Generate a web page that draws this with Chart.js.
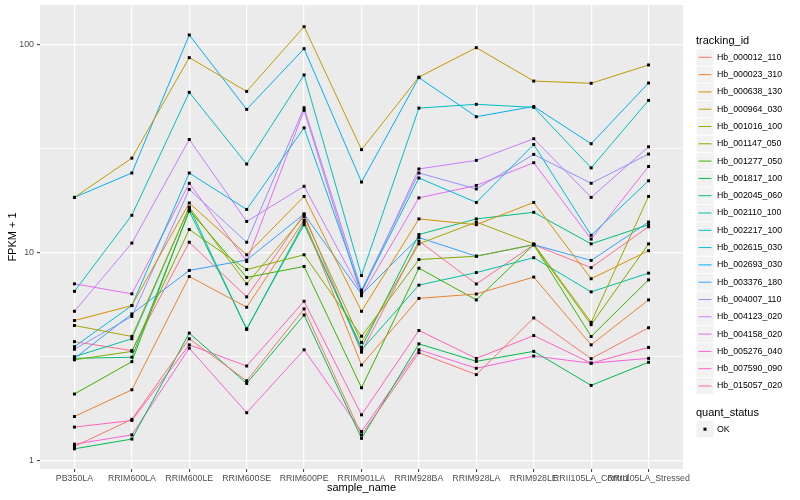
<!DOCTYPE html>
<html>
<head>
<meta charset="utf-8">
<script src="https://cdn.jsdelivr.net/npm/chart.js@4.4.0/dist/chart.umd.min.js"></script>
<style>
  html, body { margin: 0; padding: 0; background: #fff; }
  #box { width: 800px; height: 500px; position: relative; }
</style>
</head>
<body>
<div id="box"><canvas id="chart1"></canvas></div>
<script>
// categories on the x axis
const samples = ['PB350LA', 'RRIM600LA', 'RRIM600LE', 'RRIM600SE', 'RRIM600PE', 'RRIM901LA',
                 'RRIM928BA', 'RRIM928LA', 'RRIM928LE', 'RRII105LA_Control', 'RRII105LA_Stressed'];
const trackingIds = ['Hb_000012_110', 'Hb_000023_310', 'Hb_000638_130', 'Hb_000964_030', 'Hb_001016_100',
                     'Hb_001147_050', 'Hb_001277_050', 'Hb_001817_100', 'Hb_002045_060', 'Hb_002110_100',
                     'Hb_002217_100', 'Hb_002615_030', 'Hb_002693_030', 'Hb_003376_180', 'Hb_004007_110',
                     'Hb_004123_020', 'Hb_004158_020', 'Hb_005276_040', 'Hb_007590_090', 'Hb_015057_020'];
const yTicks = [1, 10, 100];
const yMinor = [3.162, 31.62];

// FPKM + 1, one value per sample
const hb_000012_110 = [1.17, 1.58, 3.85, 2.42, 5.36, 1.33, 3.30, 2.59, 4.85, 3.09, 4.35];
const hb_000023_310 = [1.63, 2.19, 7.67, 5.46, 14.3, 2.88, 6.02, 6.32, 7.62, 3.60, 5.92];
const hb_000638_130 = [4.71, 5.56, 17.3, 9.75, 18.6, 5.22, 14.5, 13.6, 17.4, 7.48, 10.2];
const hb_000964_030 = [18.4, 28.4, 86.3, 59.4, 121.6, 31.2, 69.6, 96.4, 66.6, 65.0, 79.6];
const hb_001016_100 = [4.46, 3.95, 16.5, 7.07, 14.9, 3.70, 11.0, 14.0, 11.0, 4.62, 18.6];
const hb_001147_050 = [3.05, 3.35, 12.9, 8.28, 9.75, 3.96, 9.25, 9.60, 10.9, 4.50, 11.0];
const hb_001277_050 = [2.09, 2.99, 16.0, 7.59, 8.57, 2.24, 8.41, 5.92, 10.9, 3.95, 7.39];
const hb_001817_100 = [1.14, 1.27, 4.10, 2.35, 5.01, 1.28, 3.64, 3.00, 3.35, 2.30, 2.97];
const hb_002045_060 = [3.10, 3.14, 15.8, 4.30, 13.6, 3.50, 12.2, 14.5, 15.6, 11.0, 13.6];
const hb_002110_100 = [3.16, 3.85, 16.5, 4.27, 14.0, 3.40, 6.97, 8.01, 9.44, 6.47, 7.96];
const hb_002217_100 = [6.51, 15.1, 58.8, 26.6, 71.3, 7.75, 49.4, 51.5, 49.8, 25.5, 53.8];
const hb_002615_030 = [3.53, 5.56, 24.1, 16.1, 39.7, 6.50, 22.8, 17.4, 33.0, 12.1, 22.1];
const hb_002693_030 = [18.4, 24.1, 110.9, 48.7, 95.3, 21.8, 69.2, 44.9, 50.3, 33.3, 65.2];
const hb_003376_180 = [3.10, 5.07, 8.20, 9.20, 15.3, 6.30, 11.8, 9.60, 10.9, 9.16, 14.0];
const hb_004007_110 = [3.43, 4.93, 20.1, 11.2, 49.6, 6.60, 24.1, 20.2, 29.6, 21.5, 29.7];
const hb_004123_020 = [5.22, 11.1, 34.9, 14.1, 20.8, 6.40, 25.2, 27.7, 35.2, 18.4, 32.2];
const hb_004158_020 = [7.07, 6.33, 21.5, 9.05, 48.2, 6.20, 18.3, 21.0, 27.0, 11.6, 25.9];
const hb_005276_040 = [1.20, 1.33, 3.47, 1.70, 3.41, 1.38, 3.41, 2.78, 3.18, 2.94, 3.10];
const hb_007590_090 = [1.45, 1.56, 3.60, 2.85, 5.83, 1.66, 4.22, 3.10, 3.99, 2.94, 3.50];
const hb_015057_020 = [3.73, 3.38, 11.2, 6.12, 15.3, 3.32, 11.35, 7.06, 10.9, 8.46, 13.3];

const fpkm = [hb_000012_110, hb_000023_310, hb_000638_130, hb_000964_030, hb_001016_100,
              hb_001147_050, hb_001277_050, hb_001817_100, hb_002045_060, hb_002110_100,
              hb_002217_100, hb_002615_030, hb_002693_030, hb_003376_180, hb_004007_110,
              hb_004123_020, hb_004158_020, hb_005276_040, hb_007590_090, hb_015057_020];

// ggplot hue palette, 20 levels
const hue = ['#F8766D', '#EA8331', '#D89000', '#C09B00', '#A3A500', '#7CAE00', '#39B600', '#00BB4E',
             '#00BF7D', '#00C1A3', '#00BFC4', '#00BAE0', '#00B0F6', '#35A2FF', '#9590FF', '#C77CFF',
             '#E76BF3', '#FA62DB', '#FF62BC', '#FF6C91'];

const FONT = '"Liberation Sans", Arial, sans-serif';

let datasets = fpkm.map((vals, k) => ({
    label: trackingIds[k],
    data: vals.map((v, i) => ({x: i, y: v})),
    borderColor: hue[k],
    borderWidth: 1,
    pointRadius: 0,
    fill: false,
    order: 1
}));

// quant_status = OK for every point, drawn on top
datasets.push({
    type: 'scatter',
    label: 'OK',
    data: fpkm.flatMap(vals => vals.map((v, i) => ({x: i, y: v}))),
    pointStyle: 'rect',
    pointRadius: 2.1,
    backgroundColor: '#000',
    borderWidth: 0,
    showLine: false,
    order: 0
});

const panelBg = {
    id: 'panelBg',
    beforeDraw: (chart) => {
        const {ctx, chartArea: a} = chart;
        ctx.save();
        ctx.fillStyle = '#fff';
        ctx.fillRect(0, 0, chart.width, chart.height);
        ctx.fillStyle = '#EBEBEB';
        ctx.fillRect(a.left, a.top, a.right - a.left, a.bottom - a.top);
        ctx.restore();
    }
};

const ggLegend = {
    id: 'ggLegend',
    afterDraw: (chart) => {
        const ctx = chart.ctx;
        ctx.save();
        ctx.textBaseline = 'middle';
        ctx.fillStyle = '#000';
        ctx.font = '11px ' + FONT;
        ctx.fillText('tracking_id', 696, 40.5);
        ctx.font = '8.8px ' + FONT;
        trackingIds.forEach((id, i) => {
            const y = 57.3 + i * 17.3;
            ctx.fillStyle = '#F2F2F2';
            ctx.fillRect(696.5, y - 8.2, 17, 16.4);
            ctx.strokeStyle = hue[i];
            ctx.lineWidth = 1;
            ctx.beginPath();
            ctx.moveTo(698.5, y);
            ctx.lineTo(711.5, y);
            ctx.stroke();
            ctx.fillStyle = '#000';
            ctx.fillText(id, 717, y);
        });
        ctx.font = '11px ' + FONT;
        ctx.fillText('quant_status', 696, 412.5);
        ctx.fillStyle = '#F2F2F2';
        ctx.fillRect(696.5, 421, 17, 16.4);
        ctx.fillStyle = '#000';
        ctx.fillRect(703.5, 427.7, 3, 3);
        ctx.font = '8.8px ' + FONT;
        ctx.fillText('OK', 717, 429.3);
        ctx.restore();
    }
};

let chart = new Chart(document.getElementById('chart1'), {
    type: 'line',
    data: {datasets: datasets},
    plugins: [panelBg, ggLegend],
    options: {
        responsive: true,
        maintainAspectRatio: false,
        devicePixelRatio: 1,
        animation: false,
        layout: {padding: {left: 0, top: 5, right: 117, bottom: 0}},
        plugins: {legend: {display: false}, tooltip: {enabled: false}},
        scales: {
            x: {
                type: 'linear',
                min: -0.6,
                max: 10.6,
                afterBuildTicks: (axis) => { axis.ticks = samples.map((s, i) => ({value: i})); },
                afterFit: (axis) => { axis.height = 31; axis.paddingLeft = 0; axis.paddingRight = 0; },
                ticks: {
                    autoSkip: false, maxRotation: 0, minRotation: 0, padding: 1,
                    color: '#4D4D4D', font: {family: FONT, size: 8.8},
                    callback: (v) => samples[v]
                },
                grid: {color: '#fff', lineWidth: 1.2, tickLength: 3, tickColor: '#333333', tickWidth: 1},
                border: {display: false},
                title: {display: true, text: 'sample_name', color: '#000',
                        font: {family: FONT, size: 11}, padding: {top: 0, bottom: 5}}
            },
            y: {
                type: 'logarithmic',
                min: 0.912,
                max: 154.5,
                afterBuildTicks: (axis) => {
                    axis.ticks = [...yTicks, ...yMinor].sort((a, b) => a - b).map(v => ({value: v}));
                },
                afterFit: (axis) => { axis.width = 40; axis.paddingTop = 0; axis.paddingBottom = 0; },
                ticks: {
                    padding: 3, color: '#4D4D4D', font: {family: FONT, size: 8.8},
                    callback: (v) => yTicks.includes(v) ? String(v) : ''
                },
                grid: {
                    color: '#fff',
                    lineWidth: (c) => yTicks.includes(c.tick.value) ? 1.2 : 0.7,
                    tickLength: 3,
                    tickWidth: 1,
                    tickColor: (c) => yTicks.includes(c.tick.value) ? '#333333' : 'rgba(0,0,0,0)'
                },
                border: {display: false},
                title: {display: true, text: 'FPKM + 1', color: '#000',
                        font: {family: FONT, size: 11}, padding: {top: 6, bottom: 0}}
            }
        }
    }
});
</script>
</body>
</html>
